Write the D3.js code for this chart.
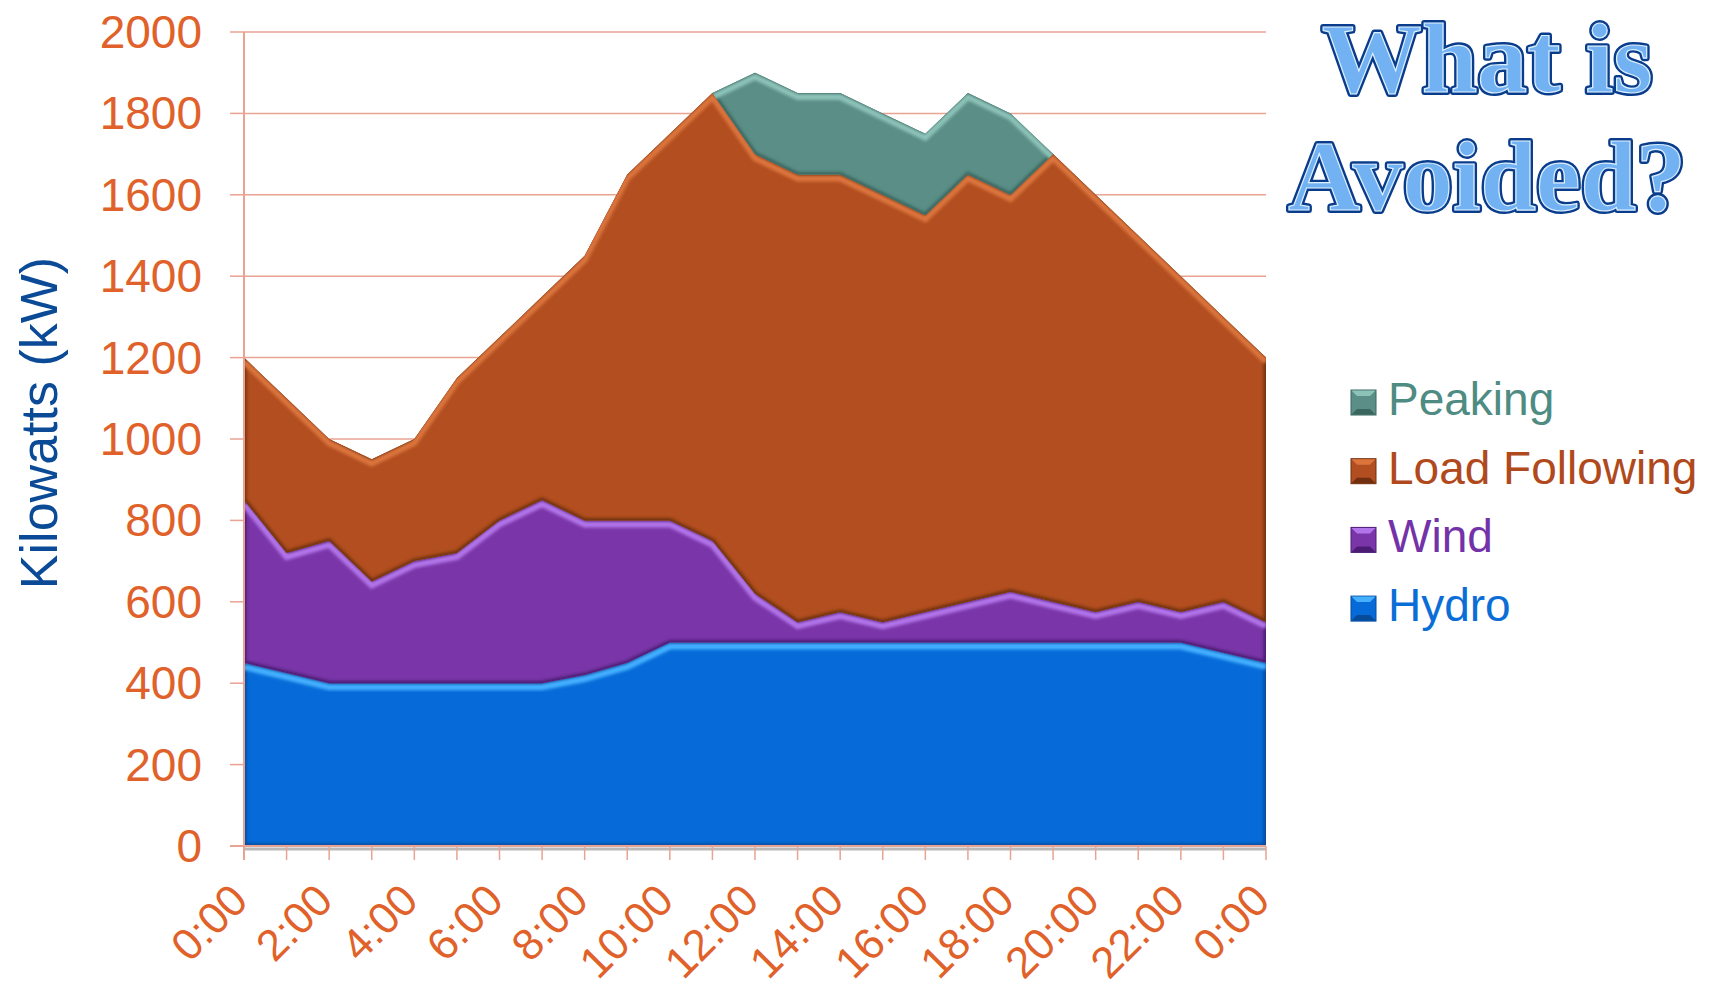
<!DOCTYPE html>
<html>
<head>
<meta charset="utf-8">
<script src="https://cdn.jsdelivr.net/npm/d3@7"></script>
<style>
  body { margin: 0; background: #fff; }
  svg { display: block; }
</style>
</head>
<body>
<svg id="chart"></svg>
<script>
// hourly load profile, kW
var hours = d3.range(0, 25);
var hourLabels = ["0:00", "2:00", "4:00", "6:00", "8:00", "10:00", "12:00", "14:00", "16:00", "18:00", "20:00", "22:00", "0:00"];
var hydro   = [450, 425, 400, 400, 400, 400, 400, 400, 420, 450, 500, 500, 500, 500, 500, 500, 500, 500, 500, 500, 500, 500, 500, 475, 450];
var wind    = [400, 295, 350, 250, 300, 320, 400, 450, 380, 350, 300, 250, 120, 50, 75, 50, 75, 100, 125, 100, 75, 100, 75, 125, 100];
var loadFollowing = [350, 380, 250, 300, 300, 430, 450, 500, 650, 850, 950, 1100, 1080, 1100, 1075, 1050, 975, 1050, 975, 1100, 1025, 900, 825, 700, 650];
var peaking = [0, 0, 0, 0, 0, 0, 0, 0, 0, 0, 0, 0, 200, 200, 200, 200, 200, 200, 200, 0, 0, 0, 0, 0, 0];
var yTicks = d3.range(0, 2001, 200);

var keys = ["hydro", "wind", "loadFollowing", "peaking"];
var legendKeys = ["peaking", "loadFollowing", "wind", "hydro"];
var names = {hydro: "Hydro", wind: "Wind", loadFollowing: "Load Following", peaking: "Peaking"};
var fills = {hydro: "#066bd8", wind: "#7a36a8", loadFollowing: "#b24e20", peaking: "#5a8e86"};
var lights = {hydro: "#45b0ff", wind: "#b274ea", loadFollowing: "#dc743c", peaking: "#8cc2b8"};
var darks = {hydro: "#074a9a", wind: "#4c1c74", loadFollowing: "#70300f", peaking: "#3a6660"};
var textCols = {hydro: "#0a6ed6", wind: "#7432a8", loadFollowing: "#b0491c", peaking: "#4e8b82"};

var width = 1714, height = 990;
var axisCol = "#e9a392", tickCol = "#e0622a";

var svg = d3.select("#chart").attr("width", width).attr("height", height);

var x = d3.scaleLinear().domain([0, 24]).range([244, 1266]);
var y = d3.scaleLinear().domain([0, 2000]).range([846, 32]);

var rows = hours.map(function(h, i) {
  return {hour: h, hydro: hydro[i], wind: wind[i], loadFollowing: loadFollowing[i], peaking: peaking[i]};
});
var series = d3.stack().keys(keys)(rows);

var defs = svg.append("defs");
defs.append("filter").attr("id", "soft")
  .append("feGaussianBlur").attr("stdDeviation", 1.6);

// gridlines
svg.append("g").selectAll("line")
  .data(yTicks.filter(function(d) { return d > 0; }))
  .enter().append("line")
    .attr("x1", 244).attr("x2", 1266)
    .attr("y1", function(d) { return y(d); }).attr("y2", function(d) { return y(d); })
    .attr("stroke", axisCol).attr("stroke-width", 1.5);

var area = d3.area()
  .x(function(d) { return x(d.data.hour); })
  .y0(function(d) { return y(d[0]); })
  .y1(function(d) { return y(d[1]); });

var topLine = d3.line()
  .x(function(d) { return x(d.data.hour); })
  .y(function(d) { return y(d[1]); });

series.forEach(function(s) {
  defs.append("clipPath").attr("id", "clip-" + s.key)
    .append("path").attr("d", area(s));
});

var layers = svg.append("g").selectAll("g")
  .data(series)
  .enter().append("g");

layers.append("path")
  .attr("d", area)
  .attr("fill", function(d) { return fills[d.key]; });

// bevel: dark rim, light band under the top edge
layers.append("path")
  .attr("d", area)
  .attr("clip-path", function(d) { return "url(#clip-" + d.key + ")"; })
  .attr("fill", "none")
  .attr("stroke", function(d) { return darks[d.key]; })
  .attr("stroke-width", 5)
  .attr("filter", "url(#soft)");

layers.append("g")
  .attr("clip-path", function(d) { return "url(#clip-" + d.key + ")"; })
  .append("path")
    .attr("d", topLine)
    .attr("transform", "translate(0,4)")
    .attr("fill", "none")
    .attr("stroke", function(d) { return lights[d.key]; })
    .attr("stroke-width", 6)
    .attr("filter", "url(#soft)");

// axes
svg.append("line").attr("x1", 244).attr("x2", 1266).attr("y1", 849).attr("y2", 849)
  .attr("stroke", "#b9b9b9").attr("stroke-width", 3);
svg.append("line").attr("x1", 244).attr("x2", 244).attr("y1", 32).attr("y2", 860)
  .attr("stroke", axisCol).attr("stroke-width", 2);
svg.append("line").attr("x1", 230).attr("x2", 1266).attr("y1", 846).attr("y2", 846)
  .attr("stroke", axisCol).attr("stroke-width", 2);

svg.append("g").selectAll("line")
  .data(yTicks)
  .enter().append("line")
    .attr("x1", 230).attr("x2", 244)
    .attr("y1", function(d) { return y(d); }).attr("y2", function(d) { return y(d); })
    .attr("stroke", axisCol).attr("stroke-width", 1.5);

svg.append("g").selectAll("line")
  .data(hours)
  .enter().append("line")
    .attr("x1", function(d) { return x(d); }).attr("x2", function(d) { return x(d); })
    .attr("y1", 846).attr("y2", 860)
    .attr("stroke", axisCol).attr("stroke-width", 1.5);

svg.append("g").selectAll("text")
  .data(yTicks)
  .enter().append("text")
    .attr("x", 202)
    .attr("y", function(d) { return y(d) + 16; })
    .attr("text-anchor", "end")
    .attr("font-family", "Liberation Sans, Arial, sans-serif")
    .attr("font-size", 46)
    .attr("fill", tickCol)
    .text(function(d) { return d; });

svg.append("g").selectAll("text")
  .data(hourLabels)
  .enter().append("text")
    .attr("transform", function(d, i) { return "translate(" + (x(i * 2) + 6) + ",903) rotate(-45)"; })
    .attr("text-anchor", "end")
    .attr("font-family", "Liberation Sans, Arial, sans-serif")
    .attr("font-size", 44)
    .attr("fill", tickCol)
    .text(function(d) { return d; });

svg.append("text")
  .attr("transform", "translate(57,423) rotate(-90)")
  .attr("text-anchor", "middle")
  .attr("font-family", "Liberation Sans, Arial, sans-serif")
  .attr("font-size", 52)
  .attr("fill", "#0b4a96")
  .text("Kilowatts (kW)");

// legend
var leg = svg.append("g").selectAll("g")
  .data(legendKeys)
  .enter().append("g")
    .attr("transform", function(d, i) { return "translate(1351," + (415 + i * 68.7) + ")"; });

leg.append("rect")
  .attr("x", 0).attr("y", -25).attr("width", 25).attr("height", 25)
  .attr("fill", function(d) { return fills[d]; })
  .attr("stroke", function(d) { return darks[d]; }).attr("stroke-width", 1);
leg.append("path")
  .attr("d", "M0.5,-24.5L24.5,-24.5L19,-19L6,-19Z")
  .attr("fill", function(d) { return lights[d]; });
leg.append("path")
  .attr("d", "M0.5,-0.5L24.5,-0.5L19,-6L6,-6Z")
  .attr("fill", function(d) { return darks[d]; });

leg.append("text")
  .attr("x", 37).attr("y", 0)
  .attr("font-family", "Liberation Sans, Arial, sans-serif")
  .attr("font-size", 46)
  .attr("fill", function(d) { return textCols[d]; })
  .text(function(d) { return names[d]; });

// title
var titleLines = ["What is", "Avoided?"];
var titleY = [92, 210];
var title = svg.append("g")
  .attr("font-family", "Liberation Serif, Times New Roman, serif")
  .attr("font-weight", "bold")
  .attr("font-size", 100)
  .attr("text-anchor", "middle");
title.selectAll("text.back")
  .data(titleLines)
  .enter().append("text")
    .attr("class", "back")
    .attr("x", 1487).attr("y", function(d, i) { return titleY[i]; })
    .attr("fill", "#0a3c8c").attr("stroke", "#0a3c8c").attr("stroke-width", 6)
    .attr("stroke-linejoin", "round")
    .text(function(d) { return d; });
title.selectAll("text.front")
  .data(titleLines)
  .enter().append("text")
    .attr("class", "front")
    .attr("x", 1487).attr("y", function(d, i) { return titleY[i]; })
    .attr("fill", "#72b2f2").attr("stroke", "#dcefff").attr("stroke-width", 1.2)
    .text(function(d) { return d; });
</script>
</body>
</html>
